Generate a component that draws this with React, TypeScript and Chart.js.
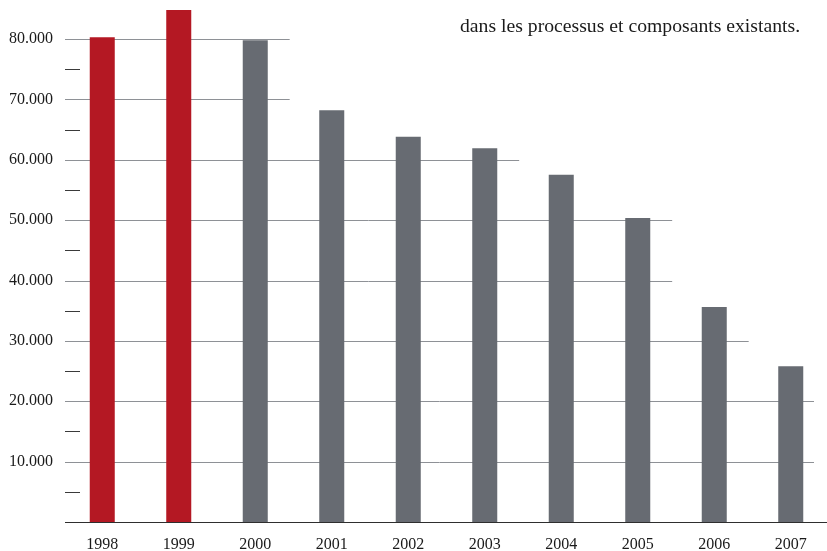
import React, { useEffect, useRef } from "react";
import { Chart, registerables } from "chart.js";

Chart.register(...registerables);

const years = ["1998", "1999", "2000", "2001", "2002", "2003", "2004", "2005", "2006", "2007"];
const values = [80300, 84800, 79800, 68200, 63800, 61900, 57500, 50350, 35600, 25800];
const barColors = ["#b41823", "#b41823", "#676b72", "#676b72", "#676b72", "#676b72", "#676b72", "#676b72", "#676b72", "#676b72"];
const majorTicks = [10000, 20000, 30000, 40000, 50000, 60000, 70000, 80000];
// last category each horizontal rule runs past
const gridReach = ["2007", "2007", "2006", "2005", "2005", "2003", "2000", "2000"];
const minorTicks = [5000, 15000, 25000, 35000, 45000, 55000, 65000, 75000];
const yMax = 86460;
const caption = "dans les processus et composants existants.";

const FONT = "'Liberation Serif', 'Times New Roman', serif";

const fmt = (v: number) => {
  const s = String(Math.round(v));
  return s.replace(/\B(?=(\d{3})+(?!\d))/g, ".");
};

const stairGrid = {
  id: "stairGrid",
  beforeDatasetsDraw(chart: any) {
    const { ctx, chartArea, scales } = chart;
    const x = scales.x;
    const y = scales.y;
    const catW = (chartArea.right - chartArea.left) / years.length;
    ctx.save();
    ctx.lineWidth = 1;
    ctx.strokeStyle = "#8e9196";
    majorTicks.forEach((v, k) => {
      const idx = years.indexOf(gridReach[k]);
      let end = chartArea.right - 15;
      if (idx < years.length - 1) {
        end = Math.min(end, x.getPixelForValue(idx) + catW * 0.45);
      }
      const py = Math.round(y.getPixelForValue(v)) + 0.5;
      ctx.beginPath();
      ctx.moveTo(chartArea.left + 1, py);
      ctx.lineTo(end, py);
      ctx.stroke();
    });
    ctx.strokeStyle = "#3a3a3a";
    minorTicks.forEach((v) => {
      const py = Math.round(y.getPixelForValue(v)) + 0.5;
      ctx.beginPath();
      ctx.moveTo(chartArea.left + 1, py);
      ctx.lineTo(chartArea.left + 16, py);
      ctx.stroke();
    });
    ctx.restore();
  },
  afterDatasetsDraw(chart: any) {
    const { ctx, chartArea, scales } = chart;
    const py = Math.round(scales.y.getPixelForValue(0)) + 0.5;
    ctx.save();
    ctx.lineWidth = 1;
    ctx.strokeStyle = "#2e2e2e";
    ctx.beginPath();
    ctx.moveTo(chartArea.left + 1, py);
    ctx.lineTo(chartArea.right, py);
    ctx.stroke();
    ctx.restore();
  },
};

export default function App() {
  const ref = useRef<HTMLCanvasElement | null>(null);

  useEffect(() => {
    if (!ref.current) return;
    const chart = new Chart(ref.current, {
      type: "bar",
      data: {
        labels: years,
        datasets: [
          {
            data: values,
            backgroundColor: barColors,
            borderWidth: 0,
            categoryPercentage: 1,
            barPercentage: 0.327,
          },
        ],
      },
      options: {
        responsive: false,
        animation: false,
        devicePixelRatio: 1,
        layout: { padding: 0 },
        plugins: {
          legend: { display: false },
          tooltip: { enabled: false },
          title: { display: false },
        },
        scales: {
          x: {
            type: "category",
            offset: true,
            grid: { display: false, drawTicks: false },
            border: { display: false },
            ticks: {
              color: "#1a1a1a",
              font: { family: FONT, size: 16 },
              padding: 13,
              maxRotation: 0,
              autoSkip: false,
            },
            afterFit(scale: any) {
              scale.height = 29;
            },
          },
          y: {
            type: "linear",
            position: "left",
            min: 0,
            max: yMax,
            grid: { display: false, drawTicks: false },
            border: { display: false },
            afterBuildTicks(scale: any) {
              scale.ticks = majorTicks.map((v) => ({ value: v }));
            },
            ticks: {
              autoSkip: false,
              color: "#1a1a1a",
              font: { family: FONT, size: 16 },
              padding: 11,
              callback: (v: any) => fmt(Number(v)),
            },
            afterFit(scale: any) {
              scale.width = 64;
              scale.paddingTop = 0;
              scale.paddingBottom = 0;
            },
          },
        },
      },
      plugins: [stairGrid],
    });
    return () => chart.destroy();
  }, []);

  return (
    <div
      style={{
        position: "fixed",
        left: 0,
        top: 0,
        width: 827,
        height: 551,
        overflow: "hidden",
        background: "#ffffff",
      }}
    >
      <canvas ref={ref} width={829} height={551} style={{ display: "block" }} />
      <div
        style={{
          position: "absolute",
          left: 460,
          top: 13,
          fontFamily: FONT,
          fontSize: 19.7,
          lineHeight: "24px",
          color: "#1a1a1a",
          whiteSpace: "nowrap",
        }}
      >
        {caption}
      </div>
    </div>
  );
}
